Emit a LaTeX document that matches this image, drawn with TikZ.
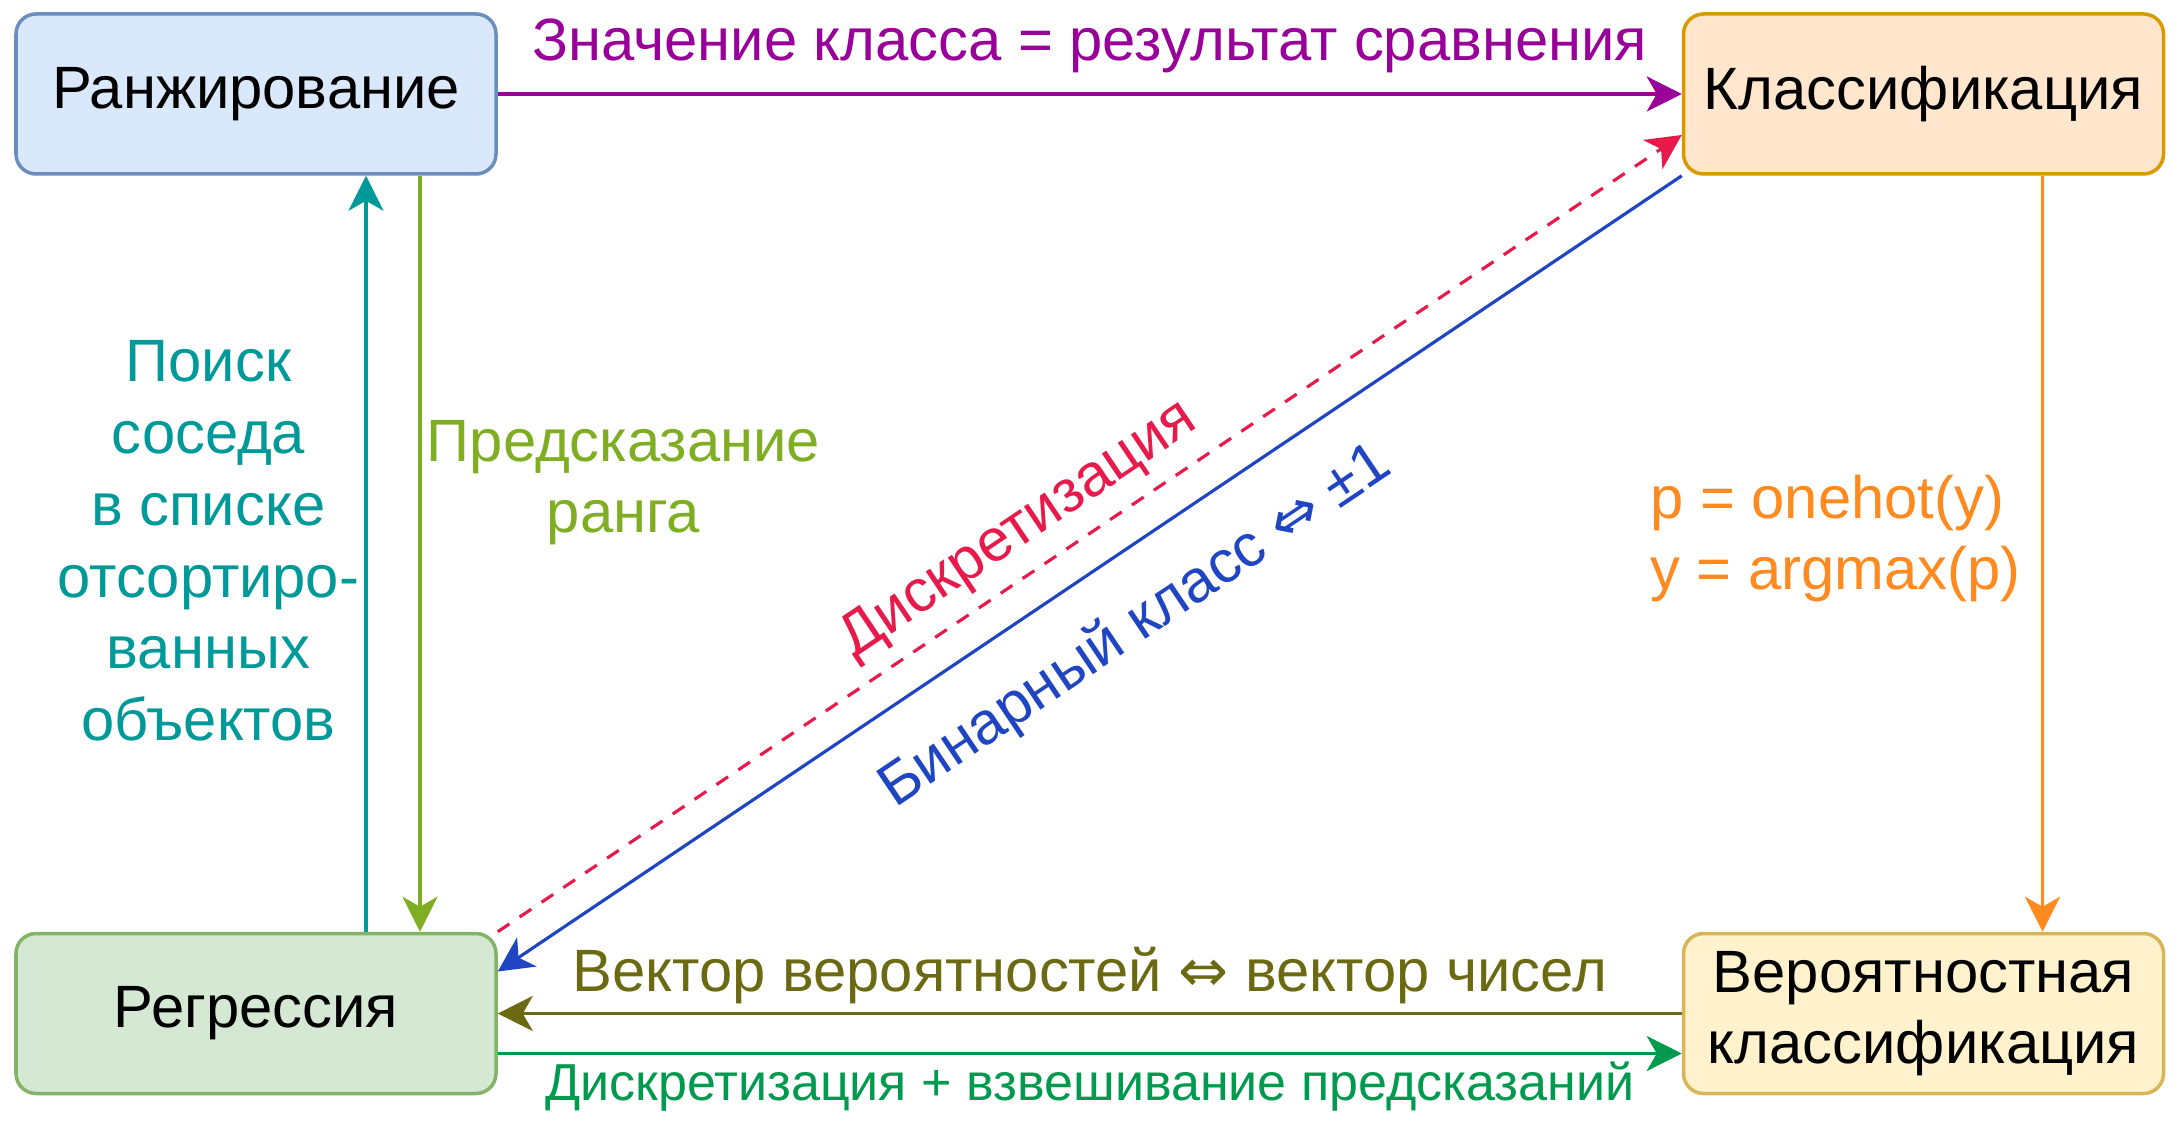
\documentclass[tikz,border=0pt]{standalone}
\usepackage{fontspec}
\setmainfont{Liberation Sans}
\newfontfamily\symfont{DejaVu Sans}
\usetikzlibrary{arrows.meta,positioning,calc}
\definecolor{rankFill}{HTML}{DAE8FC}
\definecolor{rankLine}{HTML}{6C8EBF}
\definecolor{clsFill}{HTML}{FFE6CC}
\definecolor{clsLine}{HTML}{D79B00}
\definecolor{regFill}{HTML}{D5E8D4}
\definecolor{regLine}{HTML}{82B366}
\definecolor{probFill}{HTML}{FFF2CC}
\definecolor{probLine}{HTML}{D6B656}
\definecolor{plum}{HTML}{990099}
\definecolor{teal}{HTML}{009999}
\definecolor{lime}{HTML}{7FAE22}
\definecolor{rose}{HTML}{E81A4B}
\definecolor{royal}{HTML}{1F45C2}
\definecolor{tangerine}{HTML}{FF8A1F}
\definecolor{olive}{HTML}{6B6A12}
\definecolor{jade}{HTML}{009A4E}
\newcommand{\eqv}{{\symfont ⇔}}
\tikzset{
  basebox/.style={draw,rounded corners=0.2cm,line width=1pt,minimum width=4.8cm,minimum height=1.6cm,align=center,font=\fontsize{17}{20}\selectfont,inner sep=2pt},
  rankbox/.style={basebox,draw=rankLine,fill=rankFill},
  clsbox/.style={basebox,draw=clsLine,fill=clsFill},
  regbox/.style={basebox,draw=regLine,fill=regFill},
  probbox/.style={basebox,draw=probLine,fill=probFill},
  arrow/.style={-{Stealth[length=3.5mm,width=3.5mm,inset=1mm]},line width=1.1pt},
  lbl/.style={font=\fontsize{17}{20.4}\selectfont,inner sep=0pt,align=center},
  smalllbl/.style={lbl,font=\fontsize{14.8}{18}\selectfont}
}

\begin{document}
\begin{tikzpicture}
  \useasboundingbox (0,0) rectangle (21.8,-11.21);
  \node[rankbox] (rank) at (2.56,-0.94) {Ранжирование};
  \node[clsbox,right=11.84cm of rank] (cls) {Классификация};
  \node[regbox,below=7.56cm of rank] (reg) {Регрессия};
  \node[probbox,below=7.56cm of cls] (prob) {Вероятностная\\классификация};

  % top and bottom rows
  \draw[arrow,draw=plum] (rank) -- node[lbl,above=0.19cm,text=plum] (cmp) {Значение класса = результат сравнения} (cls);
  \draw[arrow,draw=olive] (prob) -- node[lbl,above=0.08cm,text=olive] (vec) {Вектор вероятностей \eqv{} вектор чисел} (reg);
  \draw[arrow,draw=jade] ([yshift=-0.4cm]reg.east) -- node[smalllbl,below=0.06cm,text=jade] (wgt) {Дискретизация + взвешивание предсказаний} ([yshift=-0.4cm]reg.east -| prob.west);

  % verticals
  \draw[arrow,draw=teal] ([xshift=1.1cm]reg.north) -- node[lbl,left=0.05cm,pos=0.517,text=teal] (nbr) {Поиск\\соседа\\в списке\\отсортиро-\\ванных\\объектов} ([xshift=1.1cm]rank.south);
  \draw[arrow,draw=lime] ([xshift=1.64cm]rank.south) -- node[lbl,right=0.05cm,pos=0.406,text=lime] (pred) {Предсказание\\ранга} ([xshift=1.64cm]reg.north);
  \draw[arrow,draw=tangerine] ([xshift=1.19cm]cls.south) -- node[lbl,left=0.2cm,pos=0.48,align=left,text=tangerine] (hot) {p = onehot(y)\\y = argmax(p)} ([xshift=1.19cm]prob.north);

  % diagonals
  \draw[arrow,draw=rose,line width=0.9pt,dash pattern=on 4pt off 3.5pt] (reg.north east) -- node[lbl,sloped,above=0.13cm,pos=0.46,text=rose] (disc) {Дискретизация} ([yshift=-0.41cm]cls.west);
  \draw[arrow,draw=royal,line width=0.9pt] (cls.south west) -- node[lbl,sloped,below=0.4cm,pos=0.494,text=royal] (bin) {Бинарный класс \eqv{} ±1} ([yshift=0.42cm]reg.east);
\end{tikzpicture}
\end{document}
